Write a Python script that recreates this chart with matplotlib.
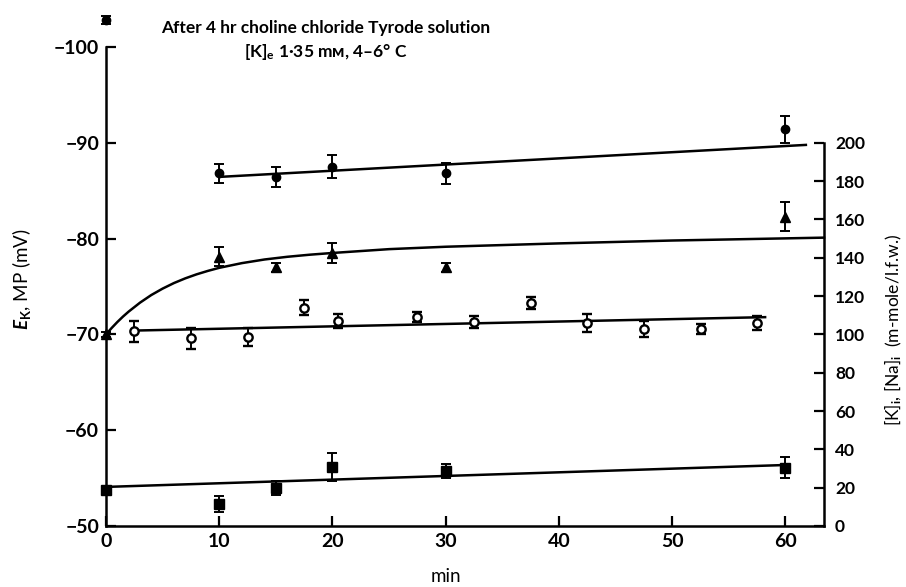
import numpy as np
import matplotlib
matplotlib.use("Agg")
import matplotlib.pyplot as plt

plt.rcParams['font.family'] = ['Lato', 'DejaVu Sans']
plt.rcParams['font.weight'] = 'bold'
plt.rcParams['mathtext.fontset'] = 'custom'
plt.rcParams['mathtext.rm'] = 'Lato:bold'
plt.rcParams['mathtext.it'] = 'Lato:italic:bold'

# filled circles, right axis (m-mole/l.f.w.)
circ_t = [0, 10, 15, 20, 30, 60]
circ_v = [264, 184, 182, 187.5, 184, 207]
circ_e = [2, 5, 5.2, 6, 5.6, 7]
circ_fit_t = [10, 61.8]
circ_fit_v = [182.2, 198.9]

# filled triangles, left axis (mV)
tri_t = [0, 10, 15, 20, 30, 60]
tri_v = [-70.0, -78.1, -77.0, -78.5, -77.0, -82.3]
tri_e = [0.3, 1.0, 0.5, 1.0, 0.5, 1.5]
tri_fit_t = [0, 0.5, 1, 1.5, 2, 3, 4, 5, 6, 7, 8, 9, 10, 12, 14, 16, 18, 20,
             25, 30, 40, 50, 63.4]
tri_fit_v = [-70.0, -70.67, -71.29, -71.86, -72.38, -73.31, -74.11, -74.78,
             -75.36, -75.85, -76.27, -76.63, -76.95, -77.44, -77.82, -78.10,
             -78.32, -78.5, -78.9, -79.15, -79.5, -79.8, -80.1]

# open circles, left axis (mV)
open_t = [2.5, 7.5, 12.5, 17.5, 20.5, 27.5, 32.5, 37.5, 42.5, 47.5, 52.5, 57.5]
open_v = [-70.35, -69.6, -69.7, -72.8, -71.4, -71.8, -71.3, -73.3, -71.2,
          -70.55, -70.55, -71.2]
open_e = [1.1, 1.1, 0.95, 0.8, 0.7, 0.55, 0.65, 0.65, 0.9, 0.85, 0.5, 0.75]
open_fit_t = [2.5, 58.2]
open_fit_v = [-70.4, -71.8]

# filled squares, right axis (m-mole/l.f.w.)
sq_t = [0, 10, 15, 20, 30, 60]
sq_v = [18.8, 11.5, 19.8, 30.8, 28.7, 30.3]
sq_e = [1.5, 4.4, 3.7, 7.3, 3.4, 5.5]
sq_fit_t = [0, 59.8]
sq_fit_v = [20.4, 31.8]

x_ticks = [0, 10, 20, 30, 40, 50, 60]
left_ticks = [-50, -60, -70, -80, -90, -100]
right_ticks = list(range(0, 201, 20))

fig = plt.figure(figsize=(9.06, 5.87), dpi=100)
ax = fig.add_axes([106 / 906, 1 - 526 / 587, (824 - 106) / 906, (526 - 47) / 587])
ax2 = ax.twinx()

ax.set_xlim(0, 63.4)
ax.set_ylim(-50, -100)
ax2.set_ylim(0, 250)

lw = 1.8
eb = dict(ecolor='black', elinewidth=1.4, capsize=3.5, capthick=1.4,
          linestyle='none', clip_on=False, zorder=4)

# fitted lines
ax2.plot(circ_fit_t, circ_fit_v, color='black', lw=lw)
ax.plot(tri_fit_t, tri_fit_v, color='black', lw=lw, clip_on=False)
ax.plot(open_fit_t, open_fit_v, color='black', lw=lw)
ax2.plot(sq_fit_t, sq_fit_v, color='black', lw=lw)

# points
ax2.errorbar(circ_t, circ_v, yerr=circ_e, fmt='o', ms=6, mfc='black', mec='black', **eb)
ax.errorbar(tri_t, tri_v, yerr=tri_e, fmt='^', ms=7, mfc='black', mec='black', **eb)
ax.errorbar(open_t, open_v, yerr=open_e, fmt='o', ms=6, mfc='white', mec='black',
            mew=1.7, **eb)
ax2.errorbar(sq_t, sq_v, yerr=sq_e, fmt='s', ms=6.5, mfc='black', mec='black', **eb)

# axes styling
for a in (ax, ax2):
    a.spines['top'].set_visible(False)
    for s in a.spines.values():
        s.set_linewidth(1.8)
ax.spines['right'].set_visible(False)
ax2.spines['left'].set_visible(False)
ax2.spines['bottom'].set_visible(False)
ax2.spines['right'].set_bounds(0, 200)

ax.set_xticks(x_ticks)
ax.set_yticks(left_ticks)
ax.set_yticklabels([('\u2212%d' % abs(v)) for v in left_ticks])
ax2.set_yticks(right_ticks)

ax.tick_params(axis='both', direction='in', length=7, width=1.6, labelsize=14, pad=5)
ax2.tick_params(axis='y', direction='in', length=7, width=1.6, labelsize=12.5, pad=8)

ax.set_xlabel('min', fontsize=13.5)
ax.xaxis.set_label_coords((446 - 106) / (824 - 106), -0.088)
ax.set_ylabel('$\\mathit{E}_{\\rm K}$, MP (mV)', fontsize=13.5)
ax.yaxis.set_label_coords(-0.102, 0.515)
ax2.set_ylabel('[K]$_{\\rm i}$, [Na]$_{\\rm i}$  (m-mole/l.f.w.)', fontsize=12.5)
ax2.yaxis.set_label_coords(1.082, 0.41)

fig.text(326 / 906, 1 - 41 / 587,
         'After 4 hr choline chloride Tyrode solution\n[K]$_{\\rm e}$ 1\u00b735 m\u043c, 4\u20136\u00b0 C',
         ha='center', va='center', fontsize=12.5, linespacing=1.35)

fig.savefig('out.png', dpi=100)
